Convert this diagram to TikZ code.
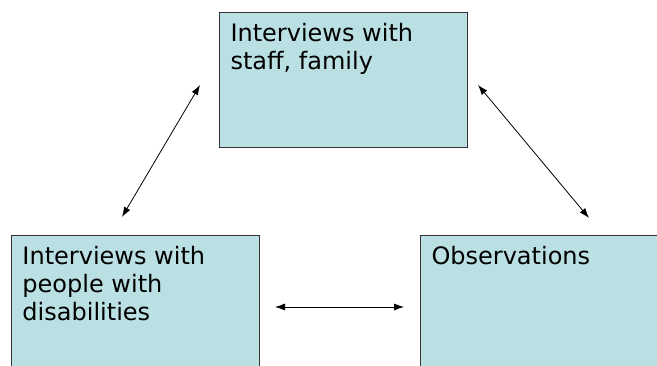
\documentclass[tikz,border=0pt]{standalone}
\usepackage{fontspec}
\setmainfont{DejaVu Sans}
\usetikzlibrary{arrows.meta, positioning}
\definecolor{boxcyan}{RGB}{187,224,227}
\tikzstyle{block} = [rectangle, draw=black!80, line width=1pt, fill=boxcyan, inner sep=11pt, anchor=north west, font=\fontsize{24}{28}\selectfont]
\tikzstyle{arrow} = [{Latex[length=10pt,width=7pt]}-{Latex[length=10pt,width=7pt]}, line width=0.8pt]
\newcommand{\blocktext}[1]{\parbox[t][113pt][t]{226pt}{\raggedright #1}}
\begin{document}
\begin{tikzpicture}[x=1pt, y=-1pt, node distance=160pt]

    \useasboundingbox (0,0) rectangle (657,366);
    \clip (0,0) rectangle (657,366);

    \node (staff) [block] at (219, 12) {\blocktext{Interviews with\\staff, family}};
    \node (people) [block] at (11, 235) {\blocktext{Interviews with\\people with\\disabilities}};
    \node (obs) [block, right=of people] {\blocktext{Observations}};

    \coordinate (staffL) at ([shift={(-19pt,-73pt)}]staff.north west);
    \coordinate (staffR) at ([shift={(10pt,-73pt)}]staff.north east);
    \coordinate (peopleT) at ([shift={(111pt,18pt)}]people.north west);
    \coordinate (peopleR) at ([shift={(15pt,-72pt)}]people.north east);
    \coordinate (obsT) at ([shift={(169pt,17pt)}]obs.north west);
    \coordinate (obsL) at ([shift={(-16pt,-72pt)}]obs.north west);

    \draw [arrow] (staffL) -- (peopleT);
    \draw [arrow] (staffR) -- (obsT);
    \draw [arrow] (peopleR) -- (obsL);

\end{tikzpicture}
\end{document}
